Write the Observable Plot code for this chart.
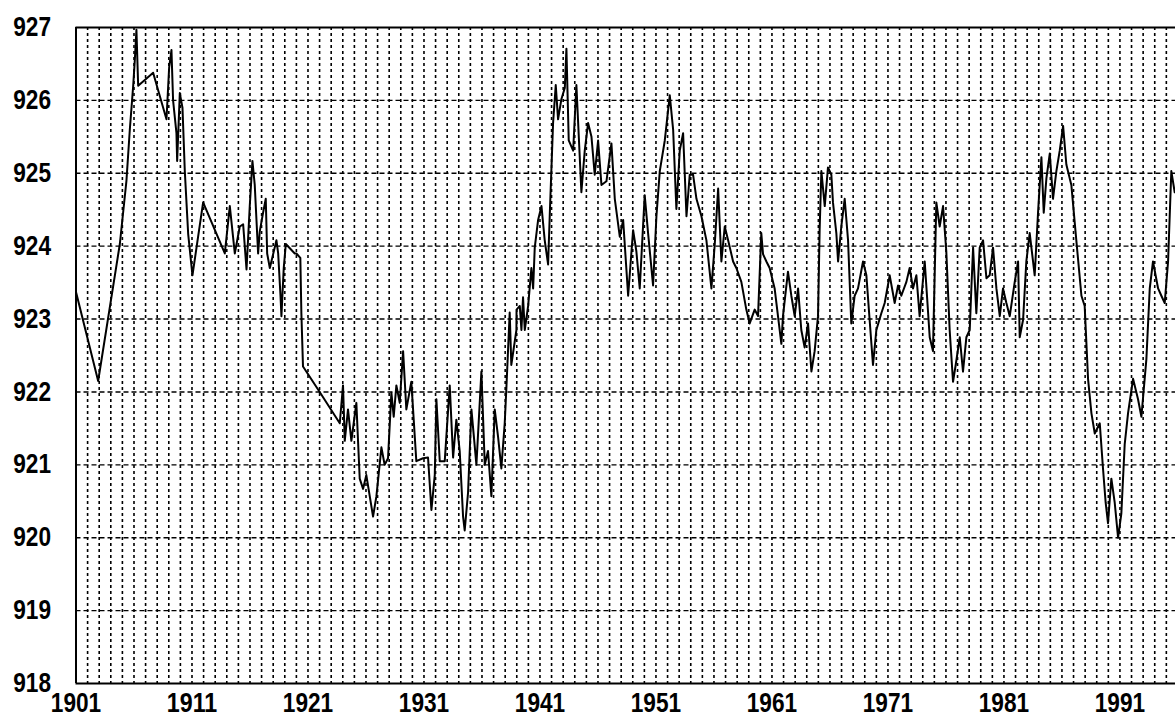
<!DOCTYPE html>
<html>
<head>
<meta charset="utf-8">
<script src="https://cdn.jsdelivr.net/npm/d3@7"></script>
<script src="https://cdn.jsdelivr.net/npm/@observablehq/plot@0.6"></script>
<style>
  html, body { margin: 0; padding: 0; background: #fff; }
  #chart svg { display: block; }
</style>
</head>
<body>
<div id="chart"></div>
<script>
// ---- Data ----
const years = [
  1901.0, 1902.91, 1904.78, 1905.35, 1905.64, 1905.93, 1906.07, 1906.21, 1906.36, 1907.65,
  1908.8, 1909.03, 1909.23, 1909.37, 1909.66, 1909.72, 1909.95, 1910.18, 1910.38, 1910.67,
  1911.04, 1911.96, 1913.83, 1914.26, 1914.69, 1915.12, 1915.41, 1915.7, 1915.98, 1916.21,
  1916.41, 1916.7, 1916.84, 1917.13, 1917.36, 1917.48, 1917.71, 1918.28, 1918.43, 1918.63,
  1918.71, 1918.91, 1919.09, 1919.86, 1920.0, 1920.34, 1920.43, 1920.57, 1922.01, 1923.74,
  1924.02, 1924.17, 1924.45, 1924.74, 1925.17, 1925.46, 1925.75, 1926.03, 1926.61, 1926.9,
  1927.33, 1927.61, 1927.9, 1928.19, 1928.39, 1928.62, 1928.91, 1929.2, 1929.48, 1929.91,
  1930.34, 1930.92, 1931.35, 1931.64, 1931.93, 1932.07, 1932.36, 1932.79, 1933.22, 1933.51,
  1933.79, 1934.08, 1934.37, 1934.51, 1934.8, 1935.09, 1935.52, 1935.95, 1936.24, 1936.52,
  1936.81, 1937.1, 1937.39, 1937.67, 1937.96, 1938.1, 1938.39, 1938.53, 1938.97, 1938.98,
  1939.26, 1939.4, 1939.54, 1939.69, 1939.98, 1940.26, 1940.41, 1940.55, 1940.84, 1941.13,
  1941.41, 1941.7, 1941.84, 1942.13, 1942.36, 1942.56, 1942.85, 1943.14, 1943.28, 1943.48,
  1943.86, 1944.14, 1944.57, 1944.86, 1945.15, 1945.44, 1945.72, 1946.01, 1946.3, 1946.73,
  1947.16, 1947.45, 1947.88, 1948.17, 1948.6, 1949.03, 1949.31, 1949.6, 1950.03, 1950.32,
  1950.75, 1951.04, 1951.33, 1951.76, 1952.19, 1952.48, 1952.76, 1953.05, 1953.34, 1953.63,
  1953.91, 1954.2, 1954.49, 1954.92, 1955.35, 1955.78, 1956.07, 1956.36, 1956.64, 1956.93,
  1957.22, 1957.65, 1957.93, 1958.36, 1958.79, 1959.08, 1959.51, 1959.8, 1960.08, 1960.23,
  1960.52, 1960.8, 1961.23, 1961.52, 1961.81, 1961.95, 1962.38, 1962.67, 1962.96, 1963.25,
  1963.53, 1963.82, 1964.11, 1964.4, 1964.68, 1964.97, 1965.11, 1965.26, 1965.55, 1965.83,
  1966.12, 1966.26, 1966.55, 1966.7, 1966.98, 1967.27, 1967.56, 1967.84, 1968.13, 1968.42,
  1968.85, 1969.14, 1969.42, 1969.71, 1970.0, 1970.43, 1970.72, 1971.15, 1971.58, 1971.87,
  1972.15, 1972.59, 1972.87, 1973.16, 1973.45, 1973.73, 1974.17, 1974.6, 1974.88, 1975.17,
  1975.46, 1975.75, 1976.03, 1976.32, 1976.61, 1976.84, 1977.19, 1977.47, 1977.76, 1978.05,
  1978.19, 1978.34, 1978.62, 1978.91, 1979.2, 1979.49, 1979.77, 1980.06, 1980.35, 1980.64,
  1980.92, 1981.21, 1981.5, 1981.93, 1982.22, 1982.36, 1982.65, 1982.93, 1983.22, 1983.65,
  1983.94, 1984.23, 1984.43, 1984.66, 1984.95, 1985.23, 1985.52, 1985.81, 1986.1, 1986.38,
  1986.81, 1987.24, 1987.68, 1987.96, 1988.25, 1988.54, 1988.83, 1989.26, 1989.54, 1989.77,
  1989.97, 1990.26, 1990.55, 1990.84, 1991.12, 1991.41, 1991.7, 1992.13, 1992.56, 1992.85,
  1993.28, 1993.57, 1993.85, 1994.29, 1994.57, 1994.86, 1995.15, 1995.43, 1995.72
];
const values = [
  923.37, 922.15, 924.03, 924.9, 925.6, 926.2, 926.55, 926.97, 926.2, 926.38,
  925.74, 926.45, 926.69, 926.0, 925.55, 925.17, 926.1, 925.9, 925.03, 924.17,
  923.6, 924.6, 923.9, 924.55, 923.9, 924.27, 924.3, 923.68, 924.55, 925.17,
  924.84, 923.9, 924.2, 924.46, 924.65, 923.9, 923.7, 924.08, 923.9, 923.32,
  923.04, 923.7, 924.03, 923.9, 923.9, 923.84, 923.08, 922.35, 922.0, 921.57,
  922.09, 921.33, 921.76, 921.33, 921.85, 920.81, 920.67, 920.86, 920.29, 920.57,
  921.24, 921.0, 921.09, 921.99, 921.66, 922.09, 921.85, 922.56, 921.76, 922.14,
  921.05, 921.09, 921.1, 920.38, 920.86, 921.9, 921.05, 921.05, 922.09, 921.1,
  921.62, 921.19, 920.29, 920.1, 920.62, 921.76, 921.0, 922.28, 921.0, 921.19,
  920.57, 921.76, 921.38, 920.95, 921.57, 922.04, 923.09, 922.37, 922.85, 923.13,
  923.18, 922.85, 923.3, 922.85, 923.18, 923.7, 923.42, 923.98, 924.36, 924.55,
  924.08, 923.75, 924.41, 925.69, 926.21, 925.74, 926.02, 926.17, 926.71, 925.45,
  925.31, 926.21, 924.74, 925.31, 925.69, 925.5, 924.98, 925.45, 924.84, 924.89,
  925.41, 924.65, 924.13, 924.36, 923.32, 924.22, 923.93, 923.42, 924.7, 924.18,
  923.46, 924.41, 925.03, 925.45, 926.07, 925.6, 924.51, 925.31, 925.55, 924.41,
  924.98, 924.98, 924.65, 924.41, 924.08, 923.42, 924.03, 924.79, 923.79, 924.27,
  924.08, 923.79, 923.7, 923.51, 923.13, 922.94, 923.13, 923.04, 924.18, 923.89,
  923.79, 923.7, 923.42, 923.04, 922.66, 923.04, 923.65, 923.32, 923.04, 923.42,
  922.85, 922.61, 922.94, 922.28, 922.56, 923.04, 924.22, 925.03, 924.55, 925.08,
  924.98, 924.6, 924.18, 923.79, 924.27, 924.65, 924.08, 922.94, 923.32, 923.42,
  923.79, 923.6, 922.99, 922.37, 922.85, 923.08, 923.22, 923.6, 923.22, 923.46,
  923.32, 923.51, 923.7, 923.42, 923.6, 923.04, 923.79, 922.75, 922.56, 924.6,
  924.27, 924.55, 923.93, 922.85, 922.14, 922.37, 922.75, 922.28, 922.75, 922.85,
  923.42, 923.98, 923.08, 923.98, 924.08, 923.56, 923.6, 923.98, 923.42, 923.04,
  923.42, 923.22, 923.04, 923.51, 923.79, 922.75, 922.99, 923.79, 924.18, 923.6,
  924.46, 925.22, 924.46, 924.93, 925.27, 924.65, 925.03, 925.31, 925.65, 925.12,
  924.84, 924.08, 923.32, 923.18, 922.18, 921.71, 921.43, 921.57, 920.95, 920.48,
  920.2, 920.81, 920.48, 920.0, 920.33, 921.28, 921.71, 922.18, 921.9, 921.66,
  922.45, 923.42, 923.79, 923.42, 923.32, 923.22, 923.79, 925.03, 924.74
];
const xTicks = [1901, 1911, 1921, 1931, 1941, 1951, 1961, 1971, 1981, 1991];
const yTicks = [918, 919, 920, 921, 922, 923, 924, 925, 926, 927];
const gridYears = d3.range(1902, 1996);
const gridLevels = [919, 920, 921, 922, 923, 924, 925, 926];

const series = years.map((y, i) => ({year: y, value: values[i]}));

const chart = Plot.plot({
  width: 1175,
  height: 719,
  marginLeft: 75.5,
  marginRight: 0,
  marginTop: 27,
  marginBottom: 36,
  style: {
    fontFamily: "'Liberation Sans', Arial, sans-serif",
    fontSize: "27px",
    fontWeight: "bold",
    color: "black",
    background: "white"
  },
  x: {domain: [1901, 1995.79], ticks: xTicks, tickFormat: d => String(d), tickSize: 0, tickPadding: 9, label: null},
  y: {domain: [918, 927], ticks: yTicks, tickFormat: d => String(d), tickSize: 0, tickPadding: 25, label: null},
  marks: [
    Plot.ruleX(gridYears, {stroke: "black", strokeWidth: 1.6, strokeDasharray: "3,3"}),
    Plot.ruleY(gridLevels, {stroke: "black", strokeWidth: 1.4, strokeDasharray: "5,3"}),
    Plot.line(series, {x: "year", y: "value", stroke: "black", strokeWidth: 2, clip: true}),
    Plot.ruleY([918, 927], {stroke: "black", strokeWidth: 2}),
    Plot.ruleX([1901], {stroke: "black", strokeWidth: 2})
  ]
});

// Condense the tick labels to mimic the narrow bold face of the original
d3.select(chart).selectAll("g[aria-label$='tick label'] text").each(function () {
  const n = (this.textContent || "").length;
  this.setAttribute("textLength", (12.6 * n).toFixed(1));
  this.setAttribute("lengthAdjust", "spacingAndGlyphs");
});

document.getElementById("chart").appendChild(chart);
</script>
</body>
</html>
